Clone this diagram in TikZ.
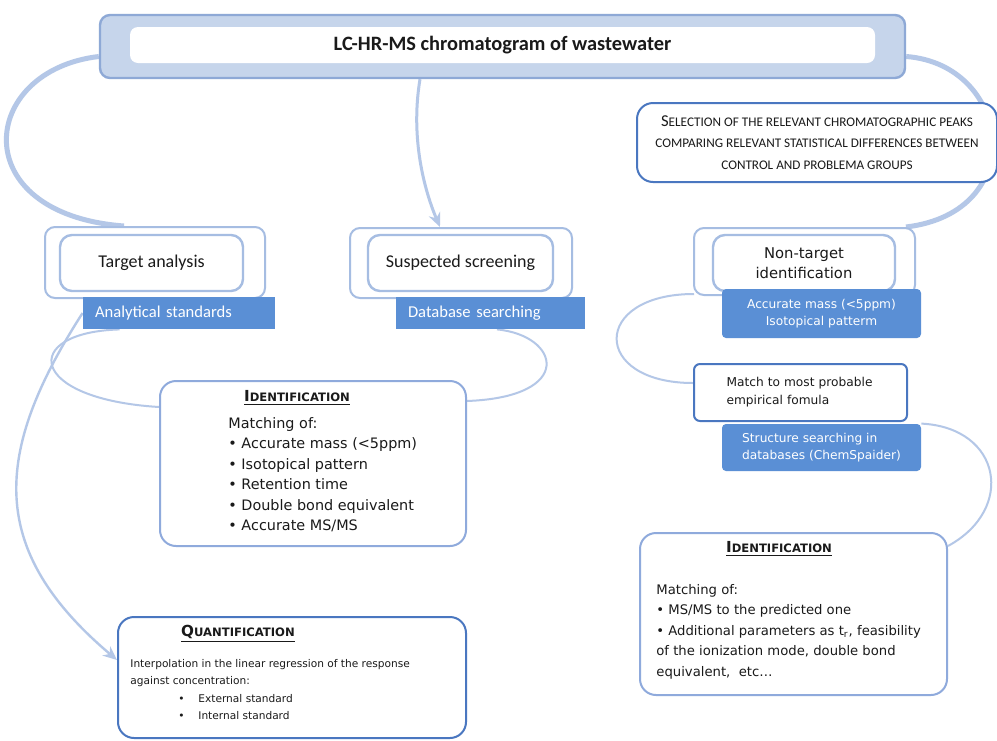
\documentclass[tikz,border=0pt]{standalone}
\usepackage{fontspec}
\setmainfont{Carlito}
\newfontfamily\tah{DejaVu Sans}
\usepackage{tikz}
\usetikzlibrary{calc,arrows.meta}
\pgfdeclarelayer{back}
\pgfsetlayers{back,main}
\definecolor{ink}{HTML}{1A1A1A}
\definecolor{band}{HTML}{C6D5EB}
\definecolor{bandline}{HTML}{8EA9D6}
\definecolor{arc}{HTML}{B4C7E7}
\definecolor{pale}{HTML}{A6BDE2}
\definecolor{mid}{HTML}{8FAADC}
\definecolor{deep}{HTML}{4A77C0}
\definecolor{fillblue}{HTML}{5A8FD5}
\newcommand{\mysc}[4]{{\fontsize{#3}{#3}\selectfont #1}{\fontsize{#4}{#4}\selectfont #2}}
\tikzset{
  banner/.style={draw=bandline, fill=band, line width=1.2pt, rounded corners=5pt},
  bannerin/.style={fill=white, rounded corners=4pt},
  outer/.style={draw=pale, fill=white, line width=1pt, rounded corners=5pt},
  inner/.style={draw=pale, fill=white, line width=1.2pt, rounded corners=6pt},
  tag/.style={fill=fillblue, text=white, inner sep=0pt},
  panel/.style={draw=deep, fill=white, line width=1pt, rounded corners=8pt},
  lite/.style={draw=mid, fill=white, line width=1pt, rounded corners=8pt},
  bigarc/.style={draw=arc, line width=2.5pt},
  thin/.style={draw=arc, line width=1pt},
  body/.style={anchor=north west, align=left, inner sep=0pt},
  head/.style={inner sep=0pt, font=\tah\bfseries},
}

\begin{document}
\begin{tikzpicture}[x=0.5pt, y=-0.5pt, every node/.append style={text=ink}]
  \useasboundingbox (0,0) rectangle (997,740);

  \node[banner, minimum width=402.5pt, minimum height=31.5pt] (lcms) at (502.5,46.5) {};
  \node[bannerin, minimum width=372.5pt, minimum height=18pt, font=\fontsize{10.2}{12}\selectfont\bfseries] (lcmsin) at (502.5,45) {LC-HR-MS chromatogram of wastewater};

  \node[panel, minimum width=180pt, minimum height=39.5pt, align=center, font=\fontsize{6.6}{10.75}\selectfont] (sel) at (817,142.5)
    {{\fontsize{8.3}{10.75}\selectfont S}ELECTION OF THE RELEVANT CHROMATOGRAPHIC PEAKS\\
     COMPARING RELEVANT STATISTICAL DIFFERENCES BETWEEN\\
     CONTROL AND PROBLEMA GROUPS};

  \node[outer, minimum width=110pt, minimum height=35.5pt] (ta) at (155,262.5) {};
  \node[inner, minimum width=91.5pt, minimum height=28pt, font=\fontsize{9}{11}\selectfont] (tain) at (151.5,263) {Target analysis};
  \node[tag, minimum width=96pt, minimum height=16pt, text width=84pt, align=left, font=\fontsize{8.3}{10}\selectfont] (tastd) at (179,313) {Analytical standards};

  \node[outer, minimum width=111pt, minimum height=35pt] (ss) at (461,263) {};
  \node[inner, minimum width=92.5pt, minimum height=28pt, font=\fontsize{9}{11}\selectfont] (ssin) at (460.5,263) {Suspected screening};
  \node[tag, minimum width=94.5pt, minimum height=16pt, text width=82.5pt, align=left, font=\fontsize{8.3}{10}\selectfont] (ssdb) at (490.5,313) {Database searching};

  \node[outer, minimum width=110.5pt, minimum height=33.5pt] (nt) at (804.5,261.5) {};
  \node[inner, minimum width=91pt, minimum height=28pt, align=center, font=\tah\fontsize{7.4}{10}\selectfont] (ntin) at (804,263) {Non-target\\identification};
  \node[tag, rounded corners=2pt, minimum width=99.5pt, minimum height=24.5pt, align=center, font=\tah\fontsize{6.1}{8.5}\selectfont] (ntmass) at (821.5,313.5) {Accurate mass (<5ppm)\\Isotopical patterm};

  \node[panel, rounded corners=3pt, minimum width=106.5pt, minimum height=28.5pt, text width=74pt, align=left, inner sep=0pt, font=\tah\fontsize{6.1}{9}\selectfont] (match) at (800.5,392.5) {Match to most probable\\empirical fomula};
  \node[tag, rounded corners=2pt, minimum width=99.5pt, minimum height=23.5pt, align=left, font=\tah\fontsize{6.1}{8.5}\selectfont] (struct) at (821.5,447.5) {Structure searching in\\databases (ChemSpaider)};

  \node[lite, minimum width=153pt, minimum height=82.5pt] (idl) at (313,463.5) {};
  \node[head] (idlhead) at (297,398) {\underline{\mysc{I}{DENTIFICATION}{7.6}{5.8}}};
  \node[body, font=\tah\fontsize{7.2}{10.25}\selectfont] (idlbody) at (228,417)
    {Matching of:\\• Accurate mass (<5ppm)\\• Isotopical pattern\\• Retention time\\• Double bond equivalent\\• Accurate MS/MS};

  \node[panel, minimum width=174pt, minimum height=60.5pt] (quant) at (292,677.5) {};
  \node[head] (quanthead) at (238,634) {\underline{\mysc{Q}{UANTIFICATION}{7.6}{5.8}}};
  \node[body, font=\tah\fontsize{5.3}{8.67}\selectfont] (quantbody) at (130,659)
    {Interpolation in the linear regression of the response\\against concentration:\\
     \hspace*{24pt}\makebox[10pt][l]{•}External standard\\
     \hspace*{24pt}\makebox[10pt][l]{•}Internal standard};

  \node[lite, minimum width=153.5pt, minimum height=81pt] (idr) at (793.5,614) {};
  \node[head] (idrhead) at (779,549) {\underline{\mysc{I}{DENTIFICATION}{7.6}{5.8}}};
  \node[body, font=\tah\fontsize{6.6}{10.25}\selectfont] (idrbody) at (656,584)
    {Matching of:\\• MS/MS to the predicted one\\• Additional parameters as t\textsubscript{r}, feasibility\\of the ionization mode, double bond\\equivalent,\ \ etc…};

  \begin{pgfonlayer}{back}
    \fill[white] (0,0) rectangle (997,740);
    \draw[bigarc] ($(lcms.west)+(0,10)$) .. controls +(-120,14) and +(-160,-12) .. ($(ta.north west)+(80,0)$);
    \draw[bigarc] ($(lcms.east)+(0,10)$) .. controls +(105,8) and +(125,-15) .. ($(nt.north east)+(-10,0)$);
    \draw[draw=arc, line width=1.5pt, -{Stealth[length=7pt,width=6pt]}] ($(lcms.south)+(-82.5,0)$) .. controls +(-10,60) and +(-15,-35) .. ($(ss.north)+(-21,0)$);
    \draw[draw=arc, line width=1.2pt, -{Stealth[length=7pt,width=6pt]}] (tastd.west) .. controls +(-90,140) and +(-130,-110) .. ($(quant.west)+(0,-17.5)$);
    \draw[thin] ($(tastd.south west)+(37,0)$) .. controls +(-100,3) and +(-132,-8) .. ($(idl.north west)+(0,27)$);
    \draw[thin] ($(ssdb.south)+(6.5,0)$) .. controls +(63,6) and +(109,-4) .. ($(idl.north east)+(0,21)$);
    \draw[thin] ($(nt.south west)+(1,-2)$) .. controls +(-103,0) and +(-102,0) .. ($(match.west)+(0,-9.5)$);
    \draw[thin] (struct.north east) .. controls +(80,4) and +(68,-37) .. ($(idr.north east)+(0,14)$);
  \end{pgfonlayer}
\end{tikzpicture}
\end{document}
